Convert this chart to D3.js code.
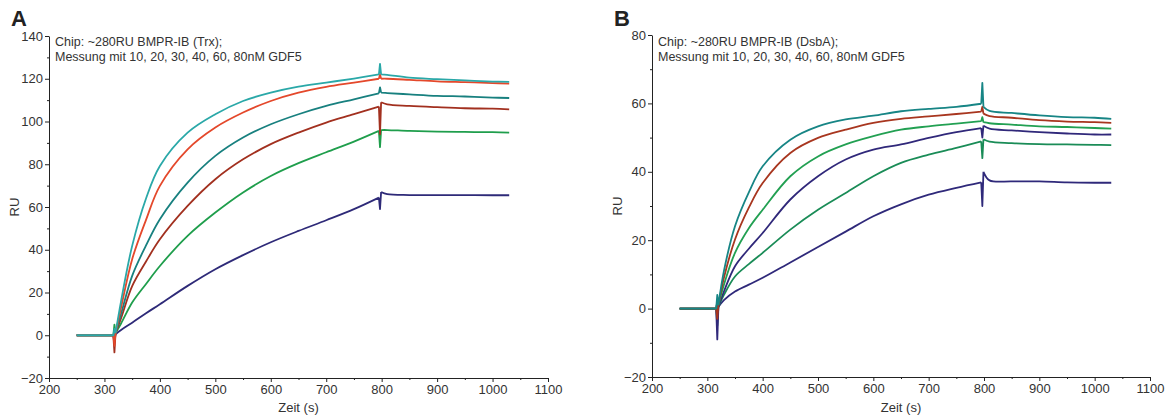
<!DOCTYPE html>
<html>
<meta charset="utf-8">
<head>
  <script src="https://d3js.org/d3.v7.min.js"></script>
</head>
<style>
  body {
    margin: 0;
    background-color: #ffffff;
    font-family: "Liberation Sans", Arial, sans-serif;
  }
  .axis text {
    font-family: "Liberation Sans", Arial, sans-serif;
    font-size: 13px;
    fill: #333333;
  }
  .axis path, .axis line {
    stroke: #222222;
  }
  .note {
    font-size: 12.5px;
    fill: #333333;
  }
</style>
<body>
<script>
  // time points (s), shared by every curve of both panels
  var times = [250, 316, 318, 320, 330, 350, 375, 400, 450, 500, 550, 600,
               650, 700, 750, 795, 797, 799, 810, 850, 900, 950, 1000, 1030];

  // panel A: BMPR-IB (Trx), RU per concentration
  var seriesA = [
    { name: "10nM", color: "#2e2a78",
      values: [0, 0, -3, 0.5, 2.5, 5.9, 10.3, 14.5, 23.1, 30.9, 37.5, 43.5,
               48.8, 53.8, 59, 64.4, 59, 67, 66, 65.6, 65.6, 65.6, 65.5, 65.5] },
    { name: "20nM", color: "#1f9e4c",
      values: [0, 0, 5, 1, 5.5, 15.3, 24, 32.4, 46.5, 57.4, 66.8, 74.5,
               80.5, 85.6, 90.6, 95.6, 88, 96, 96, 95.6, 95.3, 95.1, 95, 94.8] },
    { name: "30nM", color: "#a2301f",
      values: [0, 0, -8, 1, 8, 23, 34.5, 44.9, 60.5, 73, 82.3, 89.4,
               94.8, 99.5, 103.4, 107, 94, 109, 108, 107.3, 106.7, 106.2, 106, 105.7] },
    { name: "40nM", color: "#18807f",
      values: [0, 0, -2, 1, 10, 27.8, 42, 54.3, 71.4, 83.9, 92.5, 98.7,
               103.4, 107.3, 110.4, 113.2, 116, 113.5, 113.3, 112.7, 112, 111.7, 111.2, 111] },
    { name: "60nM", color: "#e4482b",
      values: [0, 0, -5, 1, 13, 35.6, 54, 69.9, 87, 97.2, 104.2, 109.6,
               113.5, 116.2, 118.2, 120, 122, 120, 120, 119.5, 118.8, 118.4, 118, 117.7] },
    { name: "80nM", color: "#2aa8a8",
      values: [0, 0, 3, 1, 16, 41.8, 64, 79.2, 94.8, 103.4, 109.6, 113.5,
               116.3, 118.2, 120.1, 122, 127, 122, 121.8, 120.5, 119.8, 119.2, 118.7, 118.5] }
  ];

  // panel B: BMPR-IB (DsbA)
  var seriesB = [
    { name: "10nM", color: "#2f297a",
      values: [0, 0, 2, 0.5, 2.5, 5, 7, 9, 13.5, 18, 22.5, 27,
               30.5, 33.3, 35.3, 36.9, 30, 40, 37.5, 37.2, 37.2, 36.9, 36.8, 36.8] },
    { name: "20nM", color: "#1a8c57",
      values: [0, 0, -5, 0.5, 4, 9.4, 13, 16.3, 23.1, 28.9, 33.8, 38.7,
               42.6, 45, 47, 48.9, 44, 49.5, 48.8, 48.4, 48.1, 48, 47.9, 47.8] },
    { name: "30nM", color: "#30287a",
      values: [0, 0, -9, 0.5, 5, 12.4, 17.5, 22.1, 31.9, 38.7, 43.6, 46.5,
               48, 49.9, 51.6, 52.8, 50, 53.5, 52.6, 52.1, 51.6, 51.2, 50.9, 50.9] },
    { name: "40nM", color: "#22a052",
      values: [0, 0, 2, 1, 7, 16.3, 23.5, 28.9, 38.7, 44.5, 48, 50.4,
               52.3, 53.3, 54.1, 54.8, 56, 54.5, 54.2, 53.8, 53.3, 53.1, 52.8, 52.6] },
    { name: "60nM", color: "#a8361f",
      values: [0, 0, -3, 1, 9, 20.2, 29.5, 36.7, 45.5, 49.9, 52.3, 54.3,
               55.5, 56.2, 56.9, 57.6, 59, 57, 56.3, 55.8, 55.1, 54.7, 54.5, 54.3] },
    { name: "80nM", color: "#178585",
      values: [0, 0, 4, 1, 11, 24.1, 34, 41.6, 49.4, 53.3, 55.3, 56.4,
               57.7, 58.4, 59, 59.9, 66, 59, 57.8, 57.2, 56.5, 56, 55.8, 55.5] }
  ];

  var xTicks = [200, 300, 400, 500, 600, 700, 800, 900, 1000, 1100];
  var yTicksA = [-20, 0, 20, 40, 60, 80, 100, 120, 140];
  var yTicksB = [-20, 0, 20, 40, 60, 80];
  var notesA = ["Chip: ~280RU BMPR-IB (Trx);", "Messung mit 10, 20, 30, 40, 60, 80nM GDF5"];
  var notesB = ["Chip: ~280RU BMPR-IB (DsbA);", "Messung mit 10, 20, 30, 40, 60, 80nM GDF5"];

  var svg = d3.select("body").append("svg")
    .attr("width", 1176)
    .attr("height", 416);

  function drawPanel(p) {
    var x = d3.scaleLinear().domain([200, 1100]).range([p.left, p.right]);
    var y = d3.scaleLinear().domain(p.yDomain).range([p.bottom, p.top]);

    var g = svg.append("g");

    // minor ticks
    var xMinor = d3.range(250, 1100, 100);
    var yMinor = d3.range(p.yDomain[0] + 10, p.yDomain[1], 20);

    g.append("g").attr("class", "axis")
      .attr("transform", "translate(0," + p.bottom + ")")
      .call(d3.axisBottom(x).tickValues(xMinor).tickSize(2).tickFormat(""))
      .select(".domain").remove();
    g.append("g").attr("class", "axis")
      .attr("transform", "translate(" + p.left + ",0)")
      .call(d3.axisLeft(y).tickValues(yMinor).tickSize(2).tickFormat(""))
      .select(".domain").remove();

    g.append("g").attr("class", "axis")
      .attr("transform", "translate(0," + p.bottom + ")")
      .call(d3.axisBottom(x).tickValues(xTicks).tickSize(4).tickSizeOuter(0)
        .tickPadding(3).tickFormat(d3.format("d")));
    g.append("g").attr("class", "axis")
      .attr("transform", "translate(" + p.left + ",0)")
      .call(d3.axisLeft(y).tickValues(p.yTicks).tickSize(4).tickSizeOuter(0)
        .tickPadding(2).tickFormat(d3.format("d")));

    var straight = d3.line()
      .x(function(d) { return x(d[0]); })
      .y(function(d) { return y(d[1]); });
    var smooth = d3.line()
      .x(function(d) { return x(d[0]); })
      .y(function(d) { return y(d[1]); })
      .curve(d3.curveCatmullRom.alpha(0.5));

    // baseline + injection spike, association, end-of-injection spike, dissociation
    var parts = [[0, 3, straight], [3, 15, smooth], [15, 17, straight], [17, 23, smooth]];

    p.series.forEach(function(s) {
      var pts = times.map(function(t, i) { return [t, s.values[i]]; });
      var d = parts.map(function(pt) { return pt[2](pts.slice(pt[0], pt[1] + 1)); }).join("");
      g.append("path")
        .attr("d", d)
        .attr("fill", "none")
        .attr("stroke", s.color)
        .attr("stroke-width", 1.8)
        .attr("stroke-linejoin", "round");
    });

    // labels
    g.append("text")
      .attr("x", p.left - 38).attr("y", 26)
      .style("font-size", "22px").style("font-weight", "bold").style("fill", "#222")
      .text(p.letter);

    g.append("text")
      .attr("transform", "translate(" + (p.left - 30) + "," + ((p.top + p.bottom) / 2) + ") rotate(-90)")
      .attr("text-anchor", "middle")
      .style("font-size", "13px").style("fill", "#333")
      .text("RU");

    g.append("text")
      .attr("x", (p.left + p.right) / 2).attr("y", 412)
      .attr("text-anchor", "middle")
      .style("font-size", "13px").style("fill", "#333")
      .text("Zeit (s)");

    g.selectAll("text.note")
      .data(p.notes)
      .enter().append("text")
      .attr("class", "note")
      .attr("x", p.left + 6)
      .attr("y", function(d, i) { return 46 + i * 15; })
      .text(function(d) { return d; });
  }

  drawPanel({ letter: "A", left: 49, right: 548, top: 36, bottom: 378,
              yDomain: [-20, 140], yTicks: yTicksA, series: seriesA, notes: notesA });
  drawPanel({ letter: "B", left: 652, right: 1150, top: 35, bottom: 377,
              yDomain: [-20, 80], yTicks: yTicksB, series: seriesB, notes: notesB });
</script>
</body>
</html>
